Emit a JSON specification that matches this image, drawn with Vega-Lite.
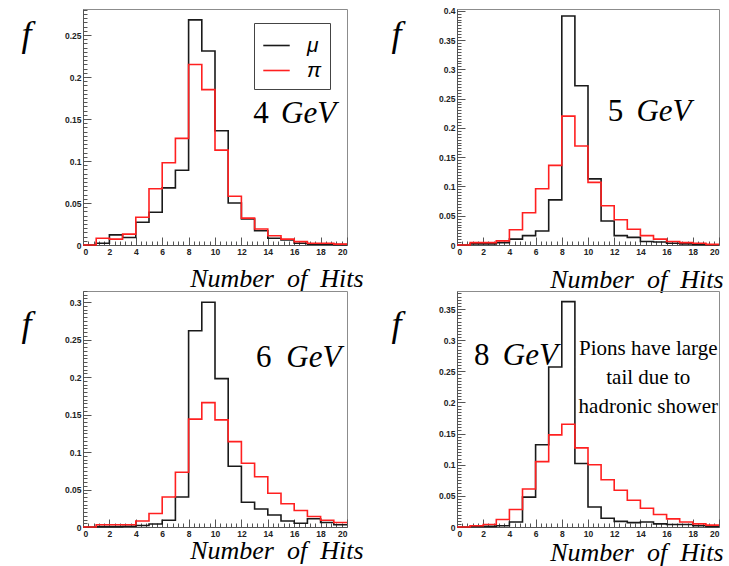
{
  "$schema": "https://vega.github.io/schema/vega-lite/v6.json",
  "autosize": {"type": "pad"},
  "padding": {"left": 20, "top": 6, "right": 0, "bottom": 0},
  "background": "white",
  "datasets": {
    "hist": [
      {"E":"4","x":0,"μ":0,"π":0},{"E":"4","x":1,"μ":0.002,"π":0.008},{"E":"4","x":2,"μ":0.012,"π":0.007},{"E":"4","x":3,"μ":0.009,"π":0.013},{"E":"4","x":4,"μ":0.027,"π":0.033},{"E":"4","x":5,"μ":0.039,"π":0.067},{"E":"4","x":6,"μ":0.068,"π":0.098},{"E":"4","x":7,"μ":0.089,"π":0.127},{"E":"4","x":8,"μ":0.268,"π":0.215},{"E":"4","x":9,"μ":0.231,"π":0.185},{"E":"4","x":10,"μ":0.136,"π":0.113},{"E":"4","x":11,"μ":0.05,"π":0.058},{"E":"4","x":12,"μ":0.031,"π":0.032},{"E":"4","x":13,"μ":0.017,"π":0.019},{"E":"4","x":14,"μ":0.008,"π":0.011},{"E":"4","x":15,"μ":0.006,"π":0.007},{"E":"4","x":16,"μ":0.002,"π":0.004},{"E":"4","x":17,"μ":0.001,"π":0.002},{"E":"4","x":18,"μ":0.001,"π":0.002},{"E":"4","x":19,"μ":0.0005,"π":0.001},{"E":"4","x":20,"μ":0.0005,"π":0.001},
      {"E":"5","x":0,"μ":0,"π":0},{"E":"5","x":1,"μ":0.002,"π":0.004},{"E":"5","x":2,"μ":0.002,"π":0.004},{"E":"5","x":3,"μ":0.004,"π":0.007},{"E":"5","x":4,"μ":0.01,"π":0.026},{"E":"5","x":5,"μ":0.016,"π":0.055},{"E":"5","x":6,"μ":0.024,"π":0.096},{"E":"5","x":7,"μ":0.077,"π":0.136},{"E":"5","x":8,"μ":0.391,"π":0.22},{"E":"5","x":9,"μ":0.272,"π":0.169},{"E":"5","x":10,"μ":0.113,"π":0.107},{"E":"5","x":11,"μ":0.041,"π":0.067},{"E":"5","x":12,"μ":0.016,"π":0.043},{"E":"5","x":13,"μ":0.013,"π":0.027},{"E":"5","x":14,"μ":0.006,"π":0.016},{"E":"5","x":15,"μ":0.005,"π":0.01},{"E":"5","x":16,"μ":0.003,"π":0.006},{"E":"5","x":17,"μ":0.002,"π":0.004},{"E":"5","x":18,"μ":0.001,"π":0.003},{"E":"5","x":19,"μ":0.0005,"π":0.001},{"E":"5","x":20,"μ":0.0005,"π":0.001},
      {"E":"6","x":0,"μ":0,"π":0},{"E":"6","x":1,"μ":0.0005,"π":0.003},{"E":"6","x":2,"μ":0.0005,"π":0.003},{"E":"6","x":3,"μ":0.001,"π":0.003},{"E":"6","x":4,"μ":0.002,"π":0.008},{"E":"6","x":5,"μ":0.004,"π":0.018},{"E":"6","x":6,"μ":0.009,"π":0.04},{"E":"6","x":7,"μ":0.04,"π":0.073},{"E":"6","x":8,"μ":0.262,"π":0.144},{"E":"6","x":9,"μ":0.3,"π":0.166},{"E":"6","x":10,"μ":0.198,"π":0.143},{"E":"6","x":11,"μ":0.081,"π":0.114},{"E":"6","x":12,"μ":0.033,"π":0.085},{"E":"6","x":13,"μ":0.024,"π":0.067},{"E":"6","x":14,"μ":0.016,"π":0.045},{"E":"6","x":15,"μ":0.008,"π":0.031},{"E":"6","x":16,"μ":0.005,"π":0.022},{"E":"6","x":17,"μ":0.011,"π":0.014},{"E":"6","x":18,"μ":0.006,"π":0.009},{"E":"6","x":19,"μ":0.003,"π":0.006},{"E":"6","x":20,"μ":0.003,"π":0.006},
      {"E":"8","x":0,"μ":0,"π":0},{"E":"8","x":1,"μ":0.001,"π":0.002},{"E":"8","x":2,"μ":0.001,"π":0.004},{"E":"8","x":3,"μ":0.002,"π":0.012},{"E":"8","x":4,"μ":0.008,"π":0.028},{"E":"8","x":5,"μ":0.048,"π":0.061},{"E":"8","x":6,"μ":0.132,"π":0.105},{"E":"8","x":7,"μ":0.257,"π":0.148},{"E":"8","x":8,"μ":0.362,"π":0.165},{"E":"8","x":9,"μ":0.102,"π":0.127},{"E":"8","x":10,"μ":0.032,"π":0.1},{"E":"8","x":11,"μ":0.014,"π":0.076},{"E":"8","x":12,"μ":0.009,"π":0.059},{"E":"8","x":13,"μ":0.007,"π":0.043},{"E":"8","x":14,"μ":0.008,"π":0.03},{"E":"8","x":15,"μ":0.005,"π":0.02},{"E":"8","x":16,"μ":0.004,"π":0.013},{"E":"8","x":17,"μ":0.004,"π":0.008},{"E":"8","x":18,"μ":0.002,"π":0.005},{"E":"8","x":19,"μ":0.001,"π":0.003},{"E":"8","x":20,"μ":0.001,"π":0.003}
    ]
  },
  "columns": 2,
  "spacing": {"row": 46, "column": 110},
  "bounds": "flush",
  "resolve": {"scale": {"color": "independent"}},
  "config": {
    "view": {"stroke": "#8c8c8c", "strokeWidth": 1},
    "axis": {"grid": false, "domainColor": "#555555", "tickColor": "#555555", "labelFont": "Liberation Sans", "labelFontWeight": "bold", "labelFontSize": 8.5, "labelColor": "#222222"},
    "line": {"interpolate": "step-after", "strokeWidth": 1.6},
    "text": {"font": "Liberation Serif", "color": "black"}
  },
  "concat": [
    {
      "width": 264, "height": 236,
      "layer": [
        {
          "data": {"name": "hist"},
          "transform": [{"filter": "datum.E == '4'"}, {"fold": ["μ", "π"], "as": ["p", "f"]}],
          "mark": {"type": "line"},
          "encoding": {
            "x": {"field": "x", "type": "quantitative", "scale": {"domain": [0, 20], "nice": false},
              "axis": {"orient": "bottom", "values": [0,2,4,6,8,10,12,14,16,18,20], "format": "d", "tickSize": -8, "labelPadding": 10, "title": "Number\u00a0\u00a0of\u00a0\u00a0Hits", "titleFont": "Liberation Serif", "titleFontStyle": "italic", "titleFontWeight": "normal", "titleFontSize": 26, "titleAlign": "right", "titleBaseline": "alphabetic", "titleX": 280, "titleY": 41}},
            "y": {"field": "f", "type": "quantitative", "scale": {"domain": [0, 0.281], "nice": false},
              "axis": {"orient": "left", "values": [0,0.05,0.1,0.15,0.2,0.25], "format": "~g", "tickSize": -8, "labelPadding": 10, "title": "f", "titleFont": "Liberation Serif", "titleFontStyle": "italic", "titleFontWeight": "normal", "titleFontSize": 36, "titleAngle": 0, "titleAlign": "left", "titleBaseline": "alphabetic", "titleX": -62, "titleY": 36}},
            "color": {"field": "p", "type": "nominal", "scale": {"domain": ["μ", "π"], "range": ["#1a1a1a", "#ff2020"]},
              "legend": {"orient": "none", "legendX": 171, "legendY": 14, "title": null, "symbolType": "stroke", "symbolSize": 700, "symbolStrokeWidth": 3.5, "labelFont": "Liberation Sans", "labelFontStyle": "italic", "labelFontSize": 21, "labelOffset": 16, "padding": 8, "rowPadding": 0, "strokeColor": "#444444", "fillColor": "white"}}
          }
        },
        {
          "data": {"name": "hist"},
          "transform": [{"filter": "datum.E == '4'"}, {"fold": ["μ", "π"], "as": ["p", "f"]}],
          "mark": {"type": "point", "opacity": 0},
          "encoding": {
            "x": {"field": "x", "type": "quantitative", "scale": {"domain": [0, 20], "nice": false},
              "axis": {"orient": "bottom", "values": [0.4,0.8,1.2,1.6,2.4,2.8,3.2,3.6,4.4,4.8,5.2,5.6,6.4,6.8,7.2,7.6,8.4,8.8,9.2,9.6,10.4,10.8,11.2,11.6,12.4,12.8,13.2,13.6,14.4,14.8,15.2,15.6,16.4,16.8,17.2,17.6,18.4,18.8,19.2,19.6], "labels": false, "domain": false, "tickSize": -4, "title": null}},
            "y": {"field": "f", "type": "quantitative", "scale": {"domain": [0, 0.281], "nice": false},
              "axis": {"orient": "left", "tickCount": 56, "labels": false, "domain": false, "tickSize": -4, "title": null}}
          }
        },
        {
          "data": {"values": [{"t": "4"}]},
          "mark": {"type": "text", "fontSize": 31, "align": "left", "baseline": "alphabetic"},
          "encoding": {"x": {"datum": 12.9, "type": "quantitative", "axis": null}, "y": {"datum": 0.145, "type": "quantitative", "axis": null}, "text": {"field": "t"}}
        },
        {
          "data": {"values": [{"t": "GeV"}]},
          "mark": {"type": "text", "fontSize": 31, "fontStyle": "italic", "align": "left", "baseline": "alphabetic"},
          "encoding": {"x": {"datum": 15.0, "type": "quantitative", "axis": null}, "y": {"datum": 0.145, "type": "quantitative", "axis": null}, "text": {"field": "t"}}
        }
      ],
      "resolve": {"axis": {"x": "independent", "y": "independent"}}
    },
    {
      "width": 262, "height": 236,
      "layer": [
        {
          "data": {"name": "hist"},
          "transform": [{"filter": "datum.E == '5'"}, {"fold": ["μ", "π"], "as": ["p", "f"]}],
          "mark": {"type": "line"},
          "encoding": {
            "x": {"field": "x", "type": "quantitative", "scale": {"domain": [0, 20], "nice": false},
              "axis": {"orient": "bottom", "values": [0,2,4,6,8,10,12,14,16,18,20], "format": "d", "tickSize": -8, "labelPadding": 10, "title": "Number\u00a0\u00a0of\u00a0\u00a0Hits", "titleFont": "Liberation Serif", "titleFontStyle": "italic", "titleFontWeight": "normal", "titleFontSize": 26, "titleAlign": "right", "titleBaseline": "alphabetic", "titleX": 266, "titleY": 42}},
            "y": {"field": "f", "type": "quantitative", "scale": {"domain": [0, 0.403], "nice": false},
              "axis": {"orient": "left", "values": [0,0.05,0.1,0.15,0.2,0.25,0.3,0.35,0.4], "format": "~g", "tickSize": -8, "labelPadding": 10, "title": "f", "titleFont": "Liberation Serif", "titleFontStyle": "italic", "titleFontWeight": "normal", "titleFontSize": 36, "titleAngle": 0, "titleAlign": "left", "titleBaseline": "alphabetic", "titleX": -66, "titleY": 36}},
            "color": {"field": "p", "type": "nominal", "scale": {"domain": ["μ", "π"], "range": ["#1a1a1a", "#ff2020"]}, "legend": null}
          }
        },
        {
          "data": {"name": "hist"},
          "transform": [{"filter": "datum.E == '5'"}, {"fold": ["μ", "π"], "as": ["p", "f"]}],
          "mark": {"type": "point", "opacity": 0},
          "encoding": {
            "x": {"field": "x", "type": "quantitative", "scale": {"domain": [0, 20], "nice": false},
              "axis": {"orient": "bottom", "values": [0.4,0.8,1.2,1.6,2.4,2.8,3.2,3.6,4.4,4.8,5.2,5.6,6.4,6.8,7.2,7.6,8.4,8.8,9.2,9.6,10.4,10.8,11.2,11.6,12.4,12.8,13.2,13.6,14.4,14.8,15.2,15.6,16.4,16.8,17.2,17.6,18.4,18.8,19.2,19.6], "labels": false, "domain": false, "tickSize": -4, "title": null}},
            "y": {"field": "f", "type": "quantitative", "scale": {"domain": [0, 0.403], "nice": false},
              "axis": {"orient": "left", "tickCount": 80, "labels": false, "domain": false, "tickSize": -4, "title": null}}
          }
        },
        {
          "data": {"values": [{"t": "5"}]},
          "mark": {"type": "text", "fontSize": 31, "align": "left", "baseline": "alphabetic"},
          "encoding": {"x": {"datum": 11.5, "type": "quantitative", "axis": null}, "y": {"datum": 0.212, "type": "quantitative", "axis": null}, "text": {"field": "t"}}
        },
        {
          "data": {"values": [{"t": "GeV"}]},
          "mark": {"type": "text", "fontSize": 31, "fontStyle": "italic", "align": "left", "baseline": "alphabetic"},
          "encoding": {"x": {"datum": 13.7, "type": "quantitative", "axis": null}, "y": {"datum": 0.212, "type": "quantitative", "axis": null}, "text": {"field": "t"}}
        }
      ],
      "resolve": {"axis": {"x": "independent", "y": "independent"}}
    },
    {
      "width": 264, "height": 236,
      "layer": [
        {
          "data": {"name": "hist"},
          "transform": [{"filter": "datum.E == '6'"}, {"fold": ["μ", "π"], "as": ["p", "f"]}],
          "mark": {"type": "line"},
          "encoding": {
            "x": {"field": "x", "type": "quantitative", "scale": {"domain": [0, 20], "nice": false},
              "axis": {"orient": "bottom", "values": [0,2,4,6,8,10,12,14,16,18,20], "format": "d", "tickSize": -8, "labelPadding": 10, "title": "Number\u00a0\u00a0of\u00a0\u00a0Hits", "titleFont": "Liberation Serif", "titleFontStyle": "italic", "titleFontWeight": "normal", "titleFontSize": 26, "titleAlign": "right", "titleBaseline": "alphabetic", "titleX": 280, "titleY": 31}},
            "y": {"field": "f", "type": "quantitative", "scale": {"domain": [0, 0.315], "nice": false},
              "axis": {"orient": "left", "values": [0,0.05,0.1,0.15,0.2,0.25,0.3], "format": "~g", "tickSize": -8, "labelPadding": 10, "title": "f", "titleFont": "Liberation Serif", "titleFontStyle": "italic", "titleFontWeight": "normal", "titleFontSize": 36, "titleAngle": 0, "titleAlign": "left", "titleBaseline": "alphabetic", "titleX": -62, "titleY": 44}},
            "color": {"field": "p", "type": "nominal", "scale": {"domain": ["μ", "π"], "range": ["#1a1a1a", "#ff2020"]}, "legend": null}
          }
        },
        {
          "data": {"name": "hist"},
          "transform": [{"filter": "datum.E == '6'"}, {"fold": ["μ", "π"], "as": ["p", "f"]}],
          "mark": {"type": "point", "opacity": 0},
          "encoding": {
            "x": {"field": "x", "type": "quantitative", "scale": {"domain": [0, 20], "nice": false},
              "axis": {"orient": "bottom", "values": [0.4,0.8,1.2,1.6,2.4,2.8,3.2,3.6,4.4,4.8,5.2,5.6,6.4,6.8,7.2,7.6,8.4,8.8,9.2,9.6,10.4,10.8,11.2,11.6,12.4,12.8,13.2,13.6,14.4,14.8,15.2,15.6,16.4,16.8,17.2,17.6,18.4,18.8,19.2,19.6], "labels": false, "domain": false, "tickSize": -4, "title": null}},
            "y": {"field": "f", "type": "quantitative", "scale": {"domain": [0, 0.315], "nice": false},
              "axis": {"orient": "left", "tickCount": 63, "labels": false, "domain": false, "tickSize": -4, "title": null}}
          }
        },
        {
          "data": {"values": [{"t": "6"}]},
          "mark": {"type": "text", "fontSize": 31, "align": "left", "baseline": "alphabetic"},
          "encoding": {"x": {"datum": 13.1, "type": "quantitative", "axis": null}, "y": {"datum": 0.2136, "type": "quantitative", "axis": null}, "text": {"field": "t"}}
        },
        {
          "data": {"values": [{"t": "GeV"}]},
          "mark": {"type": "text", "fontSize": 31, "fontStyle": "italic", "align": "left", "baseline": "alphabetic"},
          "encoding": {"x": {"datum": 15.4, "type": "quantitative", "axis": null}, "y": {"datum": 0.2136, "type": "quantitative", "axis": null}, "text": {"field": "t"}}
        }
      ],
      "resolve": {"axis": {"x": "independent", "y": "independent"}}
    },
    {
      "width": 262, "height": 236,
      "layer": [
        {
          "data": {"name": "hist"},
          "transform": [{"filter": "datum.E == '8'"}, {"fold": ["μ", "π"], "as": ["p", "f"]}],
          "mark": {"type": "line"},
          "encoding": {
            "x": {"field": "x", "type": "quantitative", "scale": {"domain": [0, 20], "nice": false},
              "axis": {"orient": "bottom", "values": [0,2,4,6,8,10,12,14,16,18,20], "format": "d", "tickSize": -8, "labelPadding": 10, "title": "Number\u00a0\u00a0of\u00a0\u00a0Hits", "titleFont": "Liberation Serif", "titleFontStyle": "italic", "titleFontWeight": "normal", "titleFontSize": 26, "titleAlign": "right", "titleBaseline": "alphabetic", "titleX": 266, "titleY": 33}},
            "y": {"field": "f", "type": "quantitative", "scale": {"domain": [0, 0.379], "nice": false},
              "axis": {"orient": "left", "values": [0,0.05,0.1,0.15,0.2,0.25,0.3,0.35], "format": "~g", "tickSize": -8, "labelPadding": 10, "title": "f", "titleFont": "Liberation Serif", "titleFontStyle": "italic", "titleFontWeight": "normal", "titleFontSize": 36, "titleAngle": 0, "titleAlign": "left", "titleBaseline": "alphabetic", "titleX": -66, "titleY": 44}},
            "color": {"field": "p", "type": "nominal", "scale": {"domain": ["μ", "π"], "range": ["#1a1a1a", "#ff2020"]}, "legend": null}
          }
        },
        {
          "data": {"name": "hist"},
          "transform": [{"filter": "datum.E == '8'"}, {"fold": ["μ", "π"], "as": ["p", "f"]}],
          "mark": {"type": "point", "opacity": 0},
          "encoding": {
            "x": {"field": "x", "type": "quantitative", "scale": {"domain": [0, 20], "nice": false},
              "axis": {"orient": "bottom", "values": [0.4,0.8,1.2,1.6,2.4,2.8,3.2,3.6,4.4,4.8,5.2,5.6,6.4,6.8,7.2,7.6,8.4,8.8,9.2,9.6,10.4,10.8,11.2,11.6,12.4,12.8,13.2,13.6,14.4,14.8,15.2,15.6,16.4,16.8,17.2,17.6,18.4,18.8,19.2,19.6], "labels": false, "domain": false, "tickSize": -4, "title": null}},
            "y": {"field": "f", "type": "quantitative", "scale": {"domain": [0, 0.379], "nice": false},
              "axis": {"orient": "left", "tickCount": 76, "labels": false, "domain": false, "tickSize": -4, "title": null}}
          }
        },
        {
          "data": {"values": [{"t": "8"}]},
          "mark": {"type": "text", "fontSize": 31, "align": "left", "baseline": "alphabetic"},
          "encoding": {"x": {"datum": 1.3, "type": "quantitative", "axis": null}, "y": {"datum": 0.26, "type": "quantitative", "axis": null}, "text": {"field": "t"}}
        },
        {
          "data": {"values": [{"t": "GeV"}]},
          "mark": {"type": "text", "fontSize": 31, "fontStyle": "italic", "align": "left", "baseline": "alphabetic"},
          "encoding": {"x": {"datum": 3.5, "type": "quantitative", "axis": null}, "y": {"datum": 0.26, "type": "quantitative", "axis": null}, "text": {"field": "t"}}
        },
        {
          "data": {"values": [{"t": ["Pions have large", "tail due to", "hadronic shower"]}]},
          "mark": {"type": "text", "fontSize": 21, "align": "center", "baseline": "alphabetic", "lineHeight": 29},
          "encoding": {"x": {"datum": 14.6, "type": "quantitative", "axis": null}, "y": {"datum": 0.276, "type": "quantitative", "axis": null}, "text": {"field": "t"}}
        }
      ],
      "resolve": {"axis": {"x": "independent", "y": "independent"}}
    }
  ]
}
